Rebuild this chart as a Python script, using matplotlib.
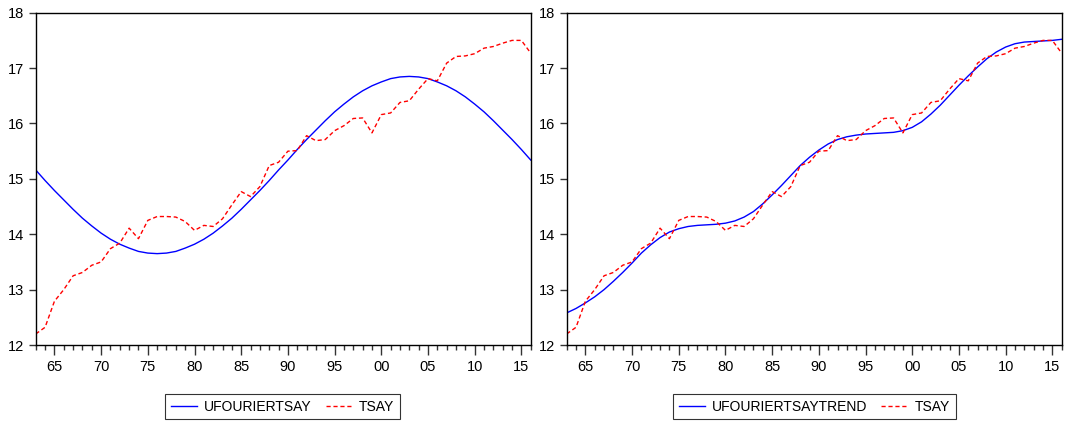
import matplotlib
matplotlib.use("Agg")
import matplotlib.pyplot as plt
from matplotlib.ticker import MultipleLocator

plt.rcParams['font.family'] = ['Liberation Sans', 'DejaVu Sans']
plt.rcParams['font.size'] = 10

years = list(range(1963, 2017))

# TSAY (red dashed, same in both panels)
tsay = [12.20, 12.32, 12.79, 13.00, 13.25, 13.31, 13.44, 13.50, 13.74, 13.84,
        14.11, 13.92, 14.25, 14.32, 14.32, 14.31, 14.23, 14.07, 14.16, 14.14,
        14.28, 14.53, 14.77, 14.68, 14.86, 15.24, 15.30, 15.50, 15.51, 15.78,
        15.69, 15.71, 15.87, 15.96, 16.09, 16.10, 15.83, 16.16, 16.19, 16.38,
        16.41, 16.62, 16.81, 16.77, 17.09, 17.21, 17.22, 17.26, 17.36, 17.39,
        17.45, 17.50, 17.50, 17.27]

# UFOURIERTSAY (left panel, blue)
ufourier = [15.16, 14.97, 14.79, 14.62, 14.45, 14.29, 14.15, 14.02, 13.91, 13.82,
            13.75, 13.69, 13.66, 13.65, 13.66, 13.69, 13.75, 13.82, 13.91, 14.02,
            14.15, 14.29, 14.45, 14.62, 14.79, 14.97, 15.16, 15.34, 15.53, 15.71,
            15.88, 16.05, 16.21, 16.35, 16.48, 16.59, 16.68, 16.75, 16.81, 16.84,
            16.85, 16.84, 16.81, 16.75, 16.68, 16.59, 16.48, 16.35, 16.21, 16.05,
            15.88, 15.71, 15.53, 15.34]

# UFOURIERTSAYTREND (right panel, blue)
ufourier_trend = [12.58, 12.66, 12.76, 12.87, 13.00, 13.15, 13.31, 13.48, 13.66, 13.81,
                  13.94, 14.04, 14.10, 14.14, 14.16, 14.17, 14.18, 14.20, 14.24, 14.31,
                  14.41, 14.55, 14.71, 14.88, 15.06, 15.24, 15.39, 15.52, 15.63, 15.71,
                  15.76, 15.79, 15.81, 15.82, 15.83, 15.84, 15.87, 15.93, 16.03, 16.17,
                  16.33, 16.51, 16.69, 16.86, 17.02, 17.17, 17.29, 17.38, 17.44, 17.47,
                  17.48, 17.49, 17.50, 17.52]

major_years = list(range(1965, 2016, 5))
major_labels = ["%02d" % (y % 100) for y in major_years]
y_ticks = [12, 13, 14, 15, 16, 17, 18]

fig = plt.figure(figsize=(10.67, 4.25), dpi=100)

panels = [
    (0.0335, ufourier, "UFOURIERTSAY", 0.2647),
    (0.5311, ufourier_trend, "UFOURIERTSAYTREND", 0.7633),
]

for x0, blue, blue_name, legend_x in panels:
    ax = fig.add_axes([x0, 0.1882, 0.4639, 0.7819])
    ax.plot(years, blue, color="#0000ff", lw=1.0, label=blue_name)
    ax.plot(years, tsay, color="#ff0000", lw=1.0, dashes=(3, 2), label="TSAY")
    ax.set_xlim(1963, 2016)
    ax.set_ylim(12, 18)
    ax.set_yticks(y_ticks)
    ax.set_xticks(major_years)
    ax.set_xticklabels(major_labels)
    ax.xaxis.set_minor_locator(MultipleLocator(1))
    ax.tick_params(axis="both", which="major", direction="out", length=5,
                   width=1, labelsize=10.5, color="#333333")
    ax.tick_params(axis="x", which="major", length=7)
    ax.tick_params(axis="x", which="minor", direction="out", length=3.5,
                   width=1, color="#333333")
    for s in ax.spines.values():
        s.set_linewidth(1.0)
        s.set_color("black")
    leg = fig.legend(loc="center", bbox_to_anchor=(legend_x, 0.0435), ncol=2,
                     frameon=True, fancybox=False, edgecolor="black",
                     handlelength=1.9, columnspacing=1.0, handletextpad=0.5,
                     borderpad=0.4, borderaxespad=0, fontsize=10,
                     handles=ax.get_lines())
    leg.get_frame().set_linewidth(0.8)

fig.savefig("out.png", dpi=100)
